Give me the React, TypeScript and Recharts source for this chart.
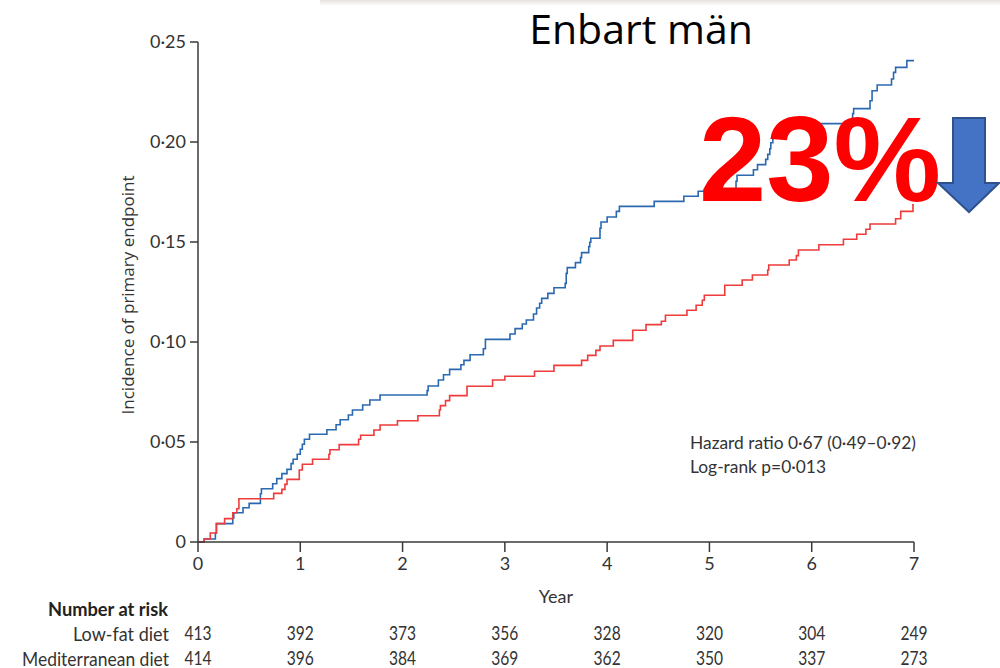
import { LineChart, Line, XAxis, YAxis } from "recharts";

const years = [0, 1, 2, 3, 4, 5, 6, 7];
const lowFatAtRisk = [413, 392, 373, 356, 328, 320, 304, 249];
const medAtRisk = [414, 396, 384, 369, 362, 350, 337, 273];
const incidenceTicks = [0, 0.05, 0.1, 0.15, 0.2, 0.25];

// Low-fat diet (blue) cumulative incidence
const lowFatTime = [
  0, 0.06, 0.17, 0.18, 0.34, 0.35, 0.44, 0.5, 0.61, 0.62, 0.73, 0.77, 0.82, 0.87, 0.91, 0.93, 0.97, 1.0,
  1.02, 1.04, 1.09, 1.26, 1.35, 1.39, 1.47, 1.51, 1.61, 1.68, 1.78, 2.24, 2.25, 2.35, 2.4, 2.46, 2.57,
  2.6, 2.66, 2.79, 2.81, 3.05, 3.1, 3.17, 3.21, 3.28, 3.31, 3.34, 3.36, 3.42, 3.48, 3.59, 3.6, 3.61, 3.69,
  3.74, 3.75, 3.82, 3.83, 3.84, 3.93, 3.94, 4.0, 4.09, 4.12, 4.46, 4.75, 4.89, 5.26, 5.27, 5.43, 5.47,
  5.55, 5.57, 5.59, 5.6, 5.62, 5.64, 5.76, 5.82, 6.4, 6.41, 6.57, 6.59, 6.64, 6.78, 6.8, 6.82, 6.93, 7.0,
];
const lowFatIncidence = [
  0, 0.0015, 0.0045, 0.0092, 0.012, 0.0146, 0.0171, 0.0193, 0.0241, 0.0266, 0.0291, 0.0317, 0.0342,
  0.0363, 0.0392, 0.0414, 0.0439, 0.0464, 0.0489, 0.0514, 0.0539, 0.0561, 0.0586, 0.0611, 0.0635, 0.066,
  0.0685, 0.071, 0.0735, 0.0757, 0.078, 0.081, 0.0836, 0.0863, 0.0886, 0.0908, 0.0936, 0.0966, 0.1013,
  0.104, 0.1067, 0.109, 0.111, 0.114, 0.117, 0.1194, 0.1218, 0.1243, 0.1271, 0.1293, 0.1343, 0.1372,
  0.1397, 0.1422, 0.1447, 0.1477, 0.1499, 0.1519, 0.1569, 0.16, 0.1625, 0.1653, 0.1678, 0.1703, 0.1729,
  0.1754, 0.1804, 0.1834, 0.1861, 0.1887, 0.1913, 0.1938, 0.1966, 0.1996, 0.202, 0.2042, 0.2067, 0.2092,
  0.2142, 0.2167, 0.2206, 0.2256, 0.2285, 0.2315, 0.2348, 0.2373, 0.2407, 0.2407,
];

// Mediterranean diet (red) cumulative incidence
const medTime = [
  0, 0.06, 0.12, 0.18, 0.26, 0.34, 0.38, 0.4, 0.74, 0.82, 0.85, 0.87, 0.99, 1.02, 1.12, 1.28, 1.29, 1.38,
  1.57, 1.59, 1.72, 1.78, 1.95, 2.15, 2.36, 2.37, 2.42, 2.46, 2.63, 2.88, 3.0, 3.29, 3.48, 3.75, 3.81,
  3.89, 3.93, 4.06, 4.25, 4.38, 4.53, 4.57, 4.78, 4.87, 4.93, 4.95, 5.15, 5.32, 5.42, 5.57, 5.58, 5.78,
  5.85, 5.87, 6.07, 6.31, 6.44, 6.53, 6.57, 6.82, 6.87, 6.99, 7.0,
];
const medIncidence = [
  0, 0.0015, 0.0045, 0.0092, 0.0117, 0.0146, 0.0166, 0.0216, 0.0243, 0.0263, 0.0288, 0.0313, 0.036,
  0.0389, 0.0414, 0.0439, 0.0461, 0.0487, 0.0514, 0.0534, 0.056, 0.0585, 0.0606, 0.0631, 0.066, 0.0682,
  0.0707, 0.0732, 0.0779, 0.081, 0.0829, 0.0854, 0.0883, 0.0908, 0.0933, 0.0958, 0.098, 0.1008, 0.1059,
  0.1087, 0.1104, 0.1134, 0.1159, 0.1184, 0.1209, 0.1234, 0.1284, 0.131, 0.1335, 0.136, 0.1385, 0.141,
  0.1432, 0.146, 0.1486, 0.1514, 0.1539, 0.1564, 0.159, 0.1616, 0.1653, 0.1686, 0.1686,
];

const lowFatData = lowFatTime.map((t, i) => ({ t, v: lowFatIncidence[i] }));
const medData = medTime.map((t, i) => ({ t, v: medIncidence[i] }));

const axisColor = "#3a3a3a";
const chartFont = "Lato, sans-serif";

const fmtIncidence = (v: number) => (v === 0 ? "0" : v.toFixed(2).replace(".", "·"));

// x tick: year label plus the number-at-risk counts under it
const YearTick = (props: any) => {
  const { x, y, payload } = props;
  const i = years.indexOf(payload.value);
  return (
    <g fontFamily={chartFont} fill="#333">
      <text x={x} y={y + 9} textAnchor="middle" dominantBaseline="central" fontSize={18}>
        {payload.value}
      </text>
      <g transform={`translate(${x},0) scale(0.82,1)`}>
        <text x={0} y={y + 79} textAnchor="middle" dominantBaseline="central" fontSize={19}>
          {lowFatAtRisk[i]}
        </text>
        <text x={0} y={y + 104} textAnchor="middle" dominantBaseline="central" fontSize={19}>
          {medAtRisk[i]}
        </text>
      </g>
    </g>
  );
};

export default function App() {
  return (
    <div style={{ position: "absolute", left: 0, top: 0, width: 1000, height: 668, background: "#fff" }}>
      <div
        style={{
          position: "absolute",
          left: 320,
          top: 0,
          width: 680,
          height: 6,
          background: "linear-gradient(#e6e2de, #fff)",
        }}
      />
      <LineChart width={1000} height={668} margin={{ top: 42, right: 86, bottom: 0, left: 0 }}>
        <XAxis
          dataKey="t"
          type="number"
          domain={[0, 7]}
          ticks={years}
          height={126}
          tickSize={10}
          stroke={axisColor}
          strokeWidth={1.5}
          tick={<YearTick />}
          allowDataOverflow
        />
        <YAxis
          type="number"
          domain={[0, 0.25]}
          ticks={incidenceTicks}
          width={198}
          tickSize={8}
          tickMargin={4}
          stroke={axisColor}
          strokeWidth={1.5}
          tickFormatter={fmtIncidence}
          tick={{ fill: "#333", fontSize: 18, fontFamily: chartFont }}
        />
        <Line
          data={lowFatData}
          dataKey="v"
          type="stepAfter"
          stroke="#2a69b0"
          strokeWidth={1.6}
          dot={false}
          isAnimationActive={false}
        />
        <Line
          data={medData}
          dataKey="v"
          type="stepAfter"
          stroke="#ee3b3b"
          strokeWidth={1.6}
          dot={false}
          isAnimationActive={false}
        />
      </LineChart>
      <svg
        width={1000}
        height={668}
        style={{ position: "absolute", left: 0, top: 0, pointerEvents: "none" }}
      >
        <text x={641} y={28} textAnchor="middle" dominantBaseline="central" fontSize={41} fontFamily="'Open Sans', sans-serif" fill="#000">
          Enbart män
        </text>
        <text
          x={127}
          y={295}
          transform="rotate(-90 127 295)"
          textAnchor="middle"
          dominantBaseline="central"
          fontSize={17}
          fontFamily="'Open Sans', sans-serif"
          fill="#333"
        >
          Incidence of primary endpoint
        </text>
        <text x={556} y={596} textAnchor="middle" dominantBaseline="central" fontSize={18} fontFamily={chartFont} fill="#333">
          Year
        </text>
        <text x={48} y={608} dominantBaseline="central" fontSize={19} fontWeight="bold" fontFamily={chartFont} fill="#222" textLength={120} lengthAdjust="spacingAndGlyphs">
          Number at risk
        </text>
        <text x={73} y={633} dominantBaseline="central" fontSize={19} fontFamily={chartFont} fill="#333" textLength={96} lengthAdjust="spacingAndGlyphs">
          Low-fat diet
        </text>
        <text x={22} y={658} dominantBaseline="central" fontSize={19} fontFamily={chartFont} fill="#333" textLength={147} lengthAdjust="spacingAndGlyphs">
          Mediterranean diet
        </text>
        <text x={690} y={442} dominantBaseline="central" fontSize={18} fontFamily={chartFont} fill="#333" textLength={226} lengthAdjust="spacingAndGlyphs">
          Hazard ratio 0·67 (0·49–0·92)
        </text>
        <text x={690} y={466} dominantBaseline="central" fontSize={18} fontFamily={chartFont} fill="#333" textLength={136} lengthAdjust="spacingAndGlyphs">
          Log-rank p=0·013
        </text>
        <text x={699} y={201} fontSize={121} fontWeight="bold" fontFamily="'Liberation Sans', Arial, sans-serif" fill="#ff0000">
          23%
        </text>
        <polygon
          points="953,118 985,118 985,183 999,183 969,212 938,183 953,183"
          fill="#4472c4"
          stroke="#2f528f"
          strokeWidth={2}
          strokeLinejoin="miter"
        />
      </svg>
    </div>
  );
}
